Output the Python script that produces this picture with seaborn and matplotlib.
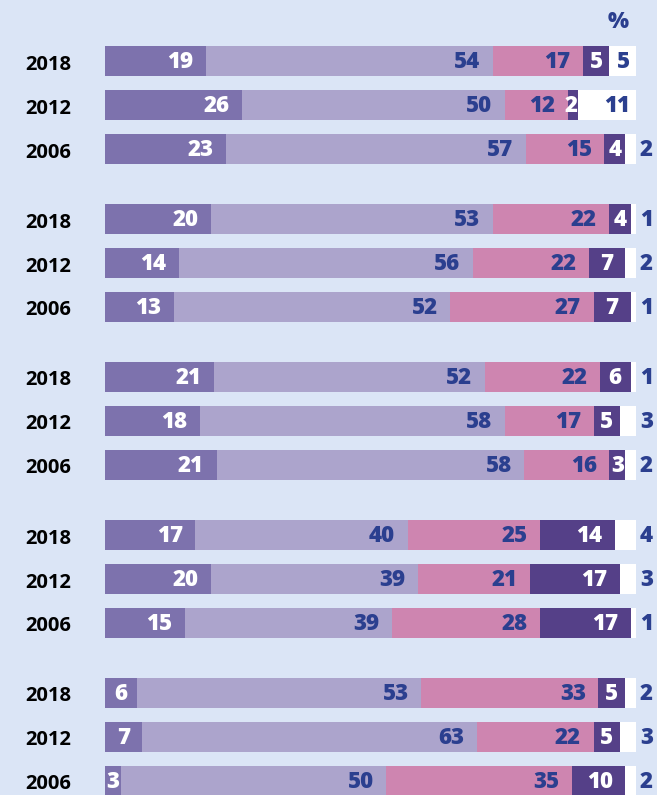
import numpy as np
import pandas as pd
import matplotlib
matplotlib.use("Agg")
import matplotlib.pyplot as plt
import seaborn as sns

# ---- data ----
years = ["2018", "2012", "2006"] * 5
group = [0, 0, 0, 1, 1, 1, 2, 2, 2, 3, 3, 3, 4, 4, 4]
seg1 = [19, 26, 23, 20, 14, 13, 21, 18, 21, 17, 20, 15, 6, 7, 3]
seg2 = [54, 50, 57, 53, 56, 52, 52, 58, 58, 40, 39, 39, 53, 63, 50]
seg3 = [17, 12, 15, 22, 22, 27, 22, 17, 16, 25, 21, 28, 33, 22, 35]
seg4 = [5, 2, 4, 4, 7, 7, 6, 5, 3, 14, 17, 17, 5, 5, 10]
seg5 = [5, 11, 2, 1, 2, 1, 1, 3, 2, 4, 3, 1, 2, 3, 2]
unit_label = "%"

# ---- style ----
BG = "#dbe5f6"
COLORS = ["#7d72ad", "#aca4cc", "#ce85b0", "#554088", "#ffffff"]
TXT_COLORS = ["white", "#2b3f8f", "#2b3f8f", "white", "#2b3f8f"]
DARKBLUE = "#2b3f8f"
FONT = "Open Sans"
WEIGHT = 800

sns.set_theme(style="white")
plt.rcParams["font.family"] = [FONT, "DejaVu Sans"]

W, H, DPI = 657, 795, 100
fig = plt.figure(figsize=(W / DPI, H / DPI), dpi=DPI, facecolor=BG)
x0_px, x1_px = 105, 636
ax = fig.add_axes([x0_px / W, 0, (x1_px - x0_px) / W, 1])
ax.set_facecolor(BG)

ROW_PX = 44.0
GROUP_STEP = 158.0 / ROW_PX
row_in_group = [i % 3 for i in range(len(years))]
ypos = [g * GROUP_STEP + r for g, r in zip(group, row_in_group)]

segs = np.array([seg1, seg2, seg3, seg4, seg5], dtype=float)
totals = segs.sum(axis=0)
norm = segs / totals * 100.0
cum = np.cumsum(norm, axis=0)

df = pd.DataFrame({"y": ypos, "year": years})
for k in range(5):
    df[f"c{k}"] = cum[k]

# draw stacked bars by overlaying cumulative totals (longest first)
for k in range(4, -1, -1):
    sns.barplot(data=df, x=f"c{k}", y="y", orient="h", native_scale=True,
                color=COLORS[k], saturation=1, width=0.70, linewidth=0,
                errorbar=None, ax=ax)

ax.set_xlim(0, 100)
top = -61 / ROW_PX
bottom = (H - 61) / ROW_PX
ax.set_ylim(bottom, top)
ax.set_xlabel("")
ax.set_ylabel("")
ax.set_xticks([])
ax.set_yticks([])
for s in ax.spines.values():
    s.set_visible(False)

px_per_unit = (x1_px - x0_px) / 100.0
VAL_FS = 16
YEAR_FS = 14.5
digit_px = 0.58 * VAL_FS * DPI / 72
pt = 72 / DPI
base_off_val = -7.5 * pt
base_off_year = -8.5 * pt

for i in range(len(years)):
    y = ypos[i]
    for k in range(5):
        v = int(segs[k, i])
        start = 0 if k == 0 else cum[k - 1, i]
        end = cum[k, i]
        seg_w_px = (end - start) * px_per_unit
        txt_w = len(str(v)) * digit_px
        if k == 4 and v < 5:
            ax.annotate(str(v), xy=(100, y), xytext=(4 * pt, base_off_val),
                        textcoords="offset points", ha="left", va="baseline",
                        fontsize=VAL_FS, fontweight=WEIGHT, color=DARKBLUE,
                        annotation_clip=False)
            continue
        maxpad = 6 if k == 4 else 12.5
        pad = min(maxpad, max(1.0, (seg_w_px - txt_w) / 2))
        ax.annotate(str(v), xy=(end, y), xytext=(-pad * pt, base_off_val),
                    textcoords="offset points", ha="right", va="baseline",
                    fontsize=VAL_FS, fontweight=WEIGHT, color=TXT_COLORS[k],
                    annotation_clip=False)
    ax.annotate(years[i], xy=(25, y), xycoords=("figure pixels", "data"),
                xytext=(0, base_off_year), textcoords="offset points",
                ha="left", va="baseline", fontsize=YEAR_FS,
                fontweight="bold", color="black", annotation_clip=False)

fig.text(618 / W, 1 - 22 / H, unit_label, ha="center", va="center",
         fontsize=VAL_FS, fontweight=WEIGHT, color=DARKBLUE)

fig.savefig("out.png", dpi=DPI, facecolor=BG)
